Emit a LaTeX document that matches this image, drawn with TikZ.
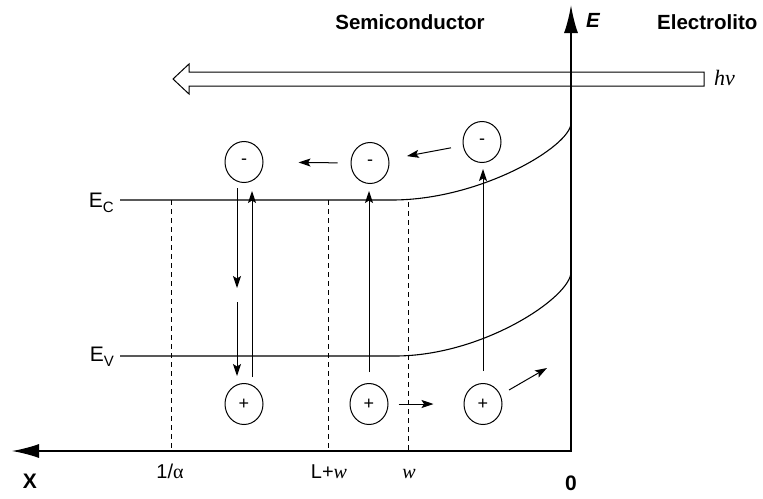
\documentclass[tikz,border=0pt]{standalone}
\usepackage{fontspec}
\setmainfont{Liberation Sans}
\newfontfamily\serifit{Liberation Serif}
\usetikzlibrary{arrows.meta,shapes.geometric,calc}
\begin{document}
\begin{tikzpicture}[x=1pt,y=-1pt,
  bubble/.style={draw,ellipse,line width=1pt,minimum width=38pt,minimum height=41pt,inner sep=0pt,font=\fontsize{18}{18}\selectfont},
  arr/.style={line width=1pt,-{Stealth[length=12pt,width=8pt,inset=2.5pt]}},
  guide/.style={line width=0.9pt,dash pattern=on 5pt off 4pt},
  band/.style={line width=1.1pt},
  lab/.style={font=\fontsize{20}{20}\selectfont,inner sep=0pt},
  blab/.style={font=\fontsize{21}{21}\selectfont\bfseries,inner sep=0pt},
  tlab/.style={font=\fontsize{20.5}{20.5}\selectfont\bfseries,inner sep=0pt},
]
\useasboundingbox (0,0) rectangle (763,498);

% axes
\coordinate (O) at (571,451);
\coordinate (Etip) at (571,5);
\coordinate (Xtip) at (12,451);
\draw[line width=2pt,-{Latex[length=28pt,width=14pt]}] ($(O)+(0,1)$) -- (Etip);
\draw[line width=1.3pt,-{Latex[length=27pt,width=14pt]}] (O) -- (Xtip);

% bands
\coordinate (ec0) at (120,200);
\coordinate (ec1) at (392,200);
\coordinate (ec2) at (571,123);
\coordinate (ev0) at (120,356);
\coordinate (ev1) at (395,356);
\coordinate (ev2) at (571,272);
\draw[band] (ec0) -- (ec1) .. controls (481,200) and (571,146) .. (ec2);
\draw[band] (ev0) -- (ev1) .. controls (483,356) and (571,297) .. (ev2);

% dashed guides
\coordinate (g1) at (171,200);
\coordinate (g2) at (328,200);
\coordinate (g3) at (408,202);
\draw[guide] (g1) -- (g1 |- O);
\draw[guide] (g2) -- (g2 |- O);
\draw[guide] (g3) -- (g3 |- O);

% photon arrow
\draw[line width=1pt,line join=miter] (173,79) -- (189,64) -- (189,72) -- (704,72) -- (704,86) -- (189,86) -- (189,94) -- cycle;
\node[font=\fontsize{22}{22}\selectfont\serifit\itshape,anchor=base west,inner sep=0pt] (hv) at (714,85) {hν};

% carriers
\node[bubble] (m1) at (244,162) {-};
\node[bubble] (m2) at (370,163) {-};
\node[bubble] (m3) at (482,142) {-};
\node[bubble] (p1) at (244,404) {+};
\node[bubble] (p2) at (369,404) {+};
\node[bubble] (p3) at (483,404) {+};

\draw[arr,shorten <=13pt,shorten >=35pt] (m2.west) -- (m1.east);
\draw[arr,shorten <=12pt,shorten >=18pt] (m3) -- (m2);
\draw[arr] ($(m1.south)+(-7,5)$) -- ($(m1.south)+(-7,105)$);
\draw[arr] ($(p1.north)+(-7,-81)$) -- ($(p1.north)+(-7,-7)$);
\draw[arr] ($(p1.north)+(8,-6)$) -- ($(p1.north |- m1.south)+(8,8)$);
\draw[arr] ($(p2.north)+(0,-11)$) -- ($(p2.north |- m2.south)+(0,7)$);
\draw[arr] ($(p3.north)+(0,-12)$) -- ($(p3.north |- m3.south)+(0,6)$);
\draw[arr,shorten <=10pt,shorten >=30pt] (p2.east) -- (p3.west);
\coordinate (d0) at ($(p3)+(26,-14)$);
\coordinate (d1) at ($(p3)+(64,-36)$);
\draw[arr] (d0) -- (d1);

% labels
\node[tlab] (semi) at (410,22) {Semiconductor};
\node[tlab,anchor=west] (elec) at (657,22) {Electrolito};
\node[tlab,anchor=west] (Elab) at (586,20) {\itshape E};
\node[lab,anchor=base east,font=\fontsize{21}{21}\selectfont] (EC) at (114,207) {E\raisebox{-5pt}{\fontsize{15}{15}\selectfont C}};
\node[lab,anchor=base east,font=\fontsize{21}{21}\selectfont] (EV) at (114,361) {E\raisebox{-5pt}{\fontsize{15}{15}\selectfont V}};
\node[lab,anchor=base] (la) at (170,478) {1/{\serifit α}};
\node[lab,anchor=base] (lw) at (329,478) {L+{\serifit\itshape w}};
\node[lab,anchor=base] (w) at (409,478) {\serifit\itshape w};
\node[blab,anchor=base] (X) at (30,488) {X};
\node[blab,anchor=base] (zero) at (571,490) {0};
\end{tikzpicture}
\end{document}
